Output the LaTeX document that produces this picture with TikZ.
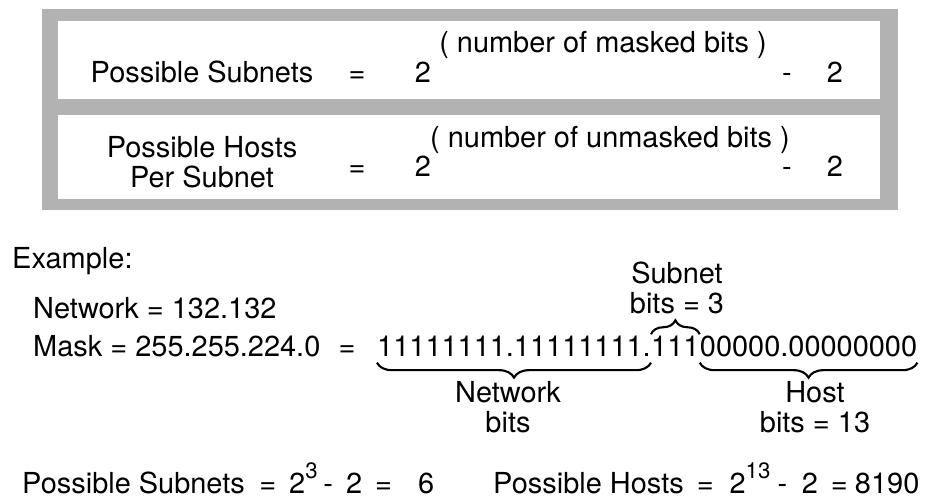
\documentclass[tikz,border=0pt]{standalone}
\usepackage{fontspec}
\setmainfont{TeX Gyre Heros}
\usetikzlibrary{decorations.pathreplacing, positioning}

\newcommand{\sups}[1]{\raisebox{0.5em}{\fontsize{19}{19}\selectfont #1}}

\tikzset{
  txt/.style={inner sep=0pt, anchor=base},
  lbl/.style={inner sep=0pt, anchor=base, align=center},
  upbrace/.style={decorate, decoration={brace, amplitude=4.2mm}, line width=1.8pt},
  downbrace/.style={decorate, decoration={brace, mirror, amplitude=4.5mm}, line width=1.8pt},
}

\begin{document}
\begin{tikzpicture}[x=3mm, y=3mm, font=\fontsize{24.7}{25}\selectfont]
\useasboundingbox (0,0) rectangle (92.6,-49.9);
% formula box
\fill[black!30] (4.2,-0.9) rectangle (89.8,-21.0);
\fill[white] (5.8,-2.1) rectangle (88.0,-9.9);
\fill[white] (5.8,-11.5) rectangle (88.0,-19.9);
\node[txt] (subnets) at (20.2,-8.2) {Possible Subnets};
\node[txt] (eqa) at (35.7,-8.2) {=};
\node[txt] (twoa) at (42.3,-8.2) {2};
\node[txt] (masked) at (60.3,-5.2) {( number of masked bits )};
\node[txt] (minusa) at (78.7,-8.2) {-};
\node[txt] (twob) at (83.5,-8.2) {2};
\node[lbl] (hosts) at (20.2,-18.7) {Possible Hosts\\Per Subnet};
\node[txt] (eqb) at (35.7,-17.6) {=};
\node[txt] (twoc) at (42.3,-17.6) {2};
\node[txt] (unmasked) at (61.0,-14.7) {( number of unmasked bits )};
\node[txt] (minusb) at (78.7,-17.6) {-};
\node[txt] (twod) at (83.5,-17.6) {2};
% example
\node[txt, anchor=base west] (example) at (1.2,-26.8) {Example:};
\node[txt, anchor=base west] (network) at (3.3,-31.8) {Network = 132.132};
\node[txt, anchor=base west] (mask) at (3.3,-35.6) {Mask = 255.255.224.0};
\node[txt] (maskeq) at (34.7,-35.6) {=};
\node[txt, anchor=base west] (netbits) at (37.7,-35.6) {11111111.11111111.};
\node[txt, anchor=base west] (subbits) at (netbits.base east) {111};
\node[txt, anchor=base west] (hostbits) at (subbits.base east) {00000.00000000};
\draw[upbrace] ([yshift=0.3mm]subbits.north west) -- ([yshift=0.3mm]subbits.north east);
\draw[downbrace] ([yshift=-2mm]netbits.base west) -- ([yshift=-2mm]netbits.base east);
\draw[downbrace] ([yshift=-2mm]hostbits.base west) -- ([yshift=-2mm]hostbits.base east);
\node[lbl] (subnetlbl) at (67.7,-31.3) {Subnet\\bits = 3};
\node[lbl] (netlbl) at (50.8,-43.2) {Network\\bits};
\node[lbl] (hostlbl) at (81.5,-43.2) {Host\\bits = 13};
% results
\node[txt, anchor=base west] (subcalc) at (2.2,-49.3) {Possible Subnets\hspace{0.5em}=\hspace{0.45em}2\sups{3}\hspace{0.2em}-\hspace{0.45em}2\hspace{0.45em}=\hspace{0.9em}6};
\node[txt, anchor=base west] (hostcalc) at (49.3,-49.3) {Possible Hosts\hspace{0.45em}=\hspace{0.55em}2\sups{13}\hspace{0.25em}-\hspace{0.5em}2\hspace{0.45em}=\hspace{0.25em}8190};
\end{tikzpicture}
\end{document}
